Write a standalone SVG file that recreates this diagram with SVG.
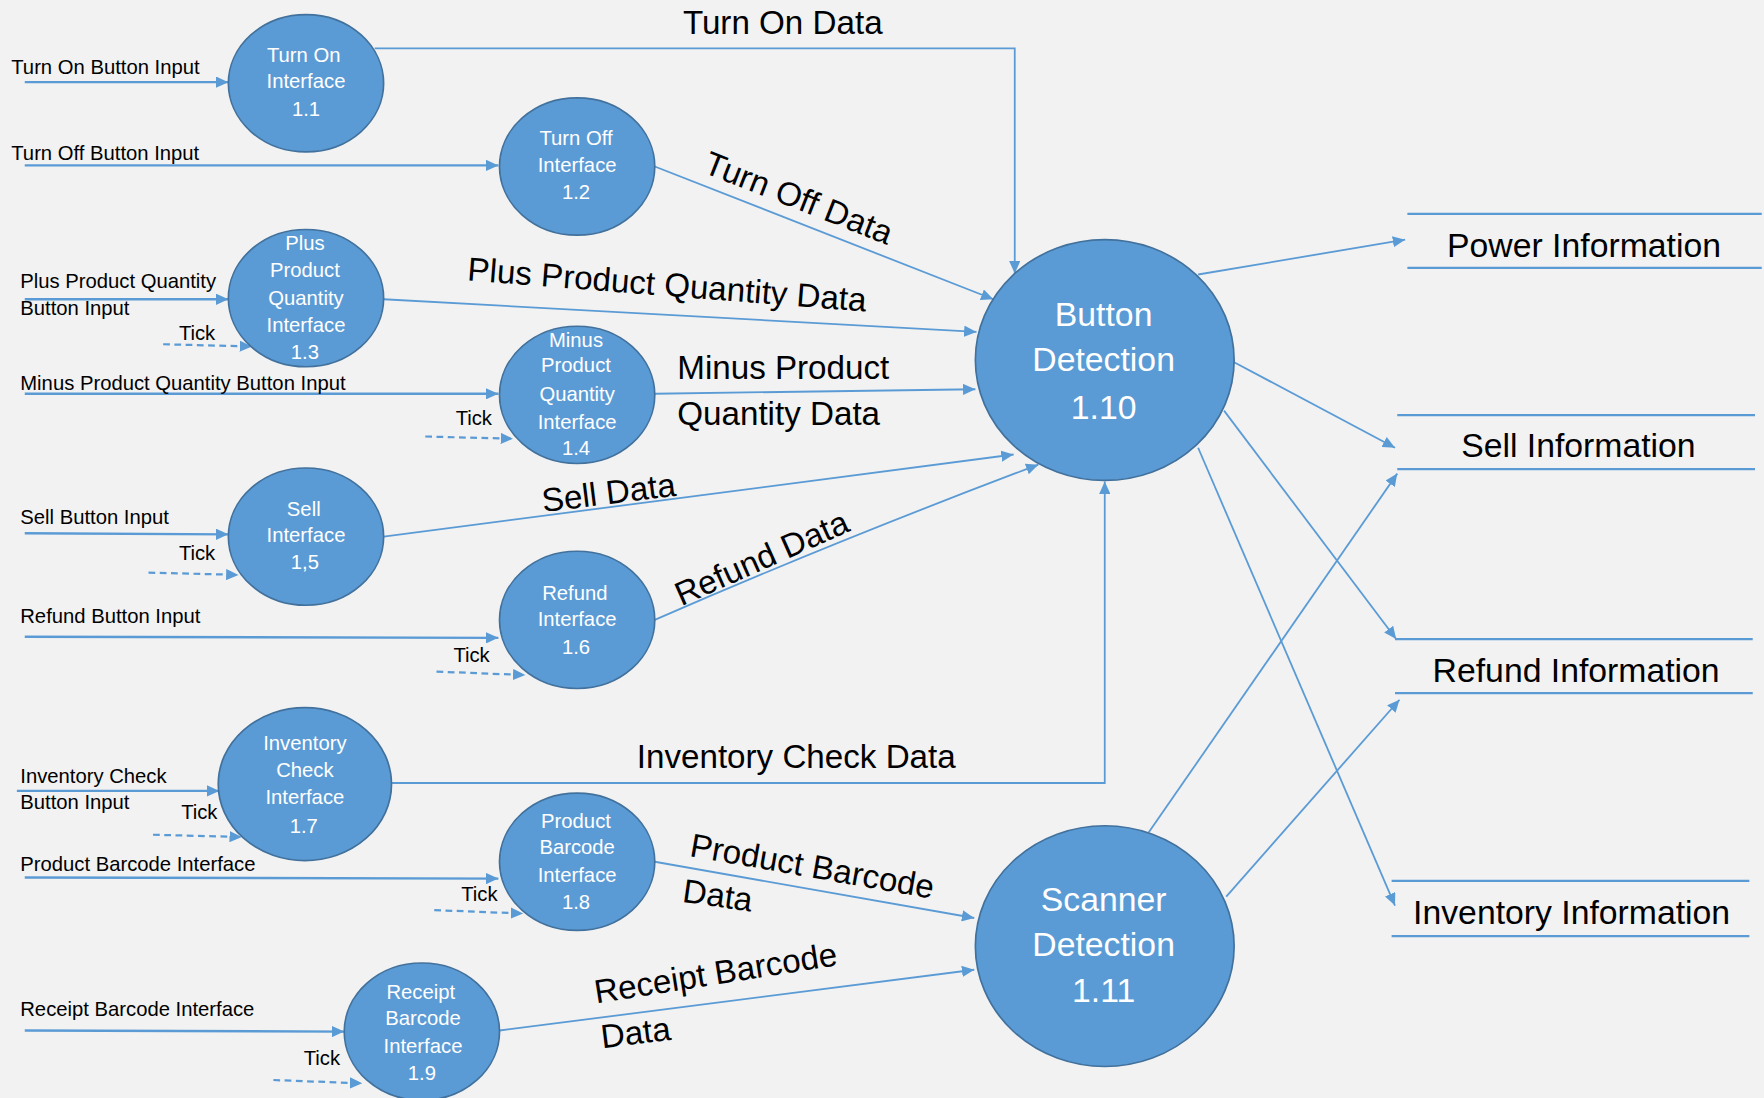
<svg xmlns="http://www.w3.org/2000/svg" width="1764" height="1098" viewBox="0 0 1764 1098">
<defs>
<marker id="arr" markerUnits="userSpaceOnUse" markerWidth="12" markerHeight="10" refX="11" refY="5" orient="auto">
<path d="M0,0 L11,5 L0,10 z" fill="#5b9bd5"/>
</marker>
<style>
.bub{fill:#5b9bd5;stroke:#41719c;stroke-width:1.5}
.bt{fill:#ffffff;font-family:"Liberation Sans",Arial,sans-serif;font-size:18px;text-anchor:middle}
.bt2{fill:#ffffff;font-family:"Liberation Sans",Arial,sans-serif;font-size:30px;text-anchor:middle}
.in{fill:#000000;font-family:"Liberation Sans",Arial,sans-serif;font-size:18px}
.lbl{fill:#000000;font-family:"Liberation Sans",Arial,sans-serif;font-size:29.5px}
.out{fill:#000000;font-family:"Liberation Sans",Arial,sans-serif;font-size:30px;text-anchor:middle}
.ln{fill:none;stroke:#5b9bd5;stroke-width:1.6}
.inl{fill:none;stroke:#5b9bd5;stroke-width:2.2}
.dash{fill:none;stroke:#5b9bd5;stroke-width:2;stroke-dasharray:6,4}
.store{fill:none;stroke:#5b9bd5;stroke-width:2}
</style>
</defs>
<rect width="1764" height="1098" fill="#f2f2f2"/>
<g transform="scale(1.125)">

<g id="connectors">
<line class="inl" x1="22" y1="73" x2="203" y2="73" marker-end="url(#arr)"/>
<line class="inl" x1="22" y1="147" x2="443" y2="147" marker-end="url(#arr)"/>
<line class="inl" x1="22" y1="266" x2="203" y2="266" marker-end="url(#arr)"/>
<line class="dash" x1="145" y1="306" x2="224" y2="308" marker-end="url(#arr)"/>
<line class="inl" x1="22" y1="350" x2="443" y2="350" marker-end="url(#arr)"/>
<line class="dash" x1="378" y1="388" x2="456" y2="390" marker-end="url(#arr)"/>
<line class="inl" x1="22" y1="474" x2="203" y2="475" marker-end="url(#arr)"/>
<line class="dash" x1="132" y1="509" x2="212" y2="511" marker-end="url(#arr)"/>
<line class="inl" x1="22" y1="566" x2="443" y2="567" marker-end="url(#arr)"/>
<line class="dash" x1="388" y1="597" x2="467" y2="600" marker-end="url(#arr)"/>
<line class="inl" x1="15" y1="703" x2="195" y2="703" marker-end="url(#arr)"/>
<line class="dash" x1="136" y1="742" x2="215" y2="744" marker-end="url(#arr)"/>
<line class="inl" x1="22" y1="780" x2="443" y2="781" marker-end="url(#arr)"/>
<line class="dash" x1="386" y1="809" x2="465" y2="812" marker-end="url(#arr)"/>
<line class="inl" x1="22" y1="916" x2="306" y2="917" marker-end="url(#arr)"/>
<line class="dash" x1="243" y1="960" x2="322" y2="963" marker-end="url(#arr)"/>
<polyline class="ln" points="333,43 902,43 902,243" marker-end="url(#arr)"/>
<line class="ln" x1="582" y1="148" x2="883" y2="266" marker-end="url(#arr)"/>
<line class="ln" x1="341" y1="266" x2="868" y2="295" marker-end="url(#arr)"/>
<line class="ln" x1="582" y1="350" x2="867" y2="346" marker-end="url(#arr)"/>
<line class="ln" x1="341" y1="477" x2="901" y2="404" marker-end="url(#arr)"/>
<path class="ln" d="M582,551 Q740,482 923,413" marker-end="url(#arr)"/>
<polyline class="ln" points="348,696 982,696 982,428" marker-end="url(#arr)"/>
<line class="ln" x1="582" y1="766" x2="866" y2="816" marker-end="url(#arr)"/>
<line class="ln" x1="444" y1="916" x2="866" y2="862" marker-end="url(#arr)"/>
<line class="ln" x1="1065" y1="244" x2="1249" y2="213" marker-end="url(#arr)"/>
<line class="ln" x1="1097" y1="322" x2="1240" y2="398" marker-end="url(#arr)"/>
<line class="ln" x1="1088" y1="365" x2="1241" y2="568" marker-end="url(#arr)"/>
<line class="ln" x1="1065" y1="398" x2="1240" y2="805" marker-end="url(#arr)"/>
<line class="ln" x1="1021" y1="740" x2="1242" y2="421" marker-end="url(#arr)"/>
<line class="ln" x1="1090" y1="797" x2="1244" y2="622" marker-end="url(#arr)"/>
</g>

<g id="input-labels">
<text class="in" x="10" y="66">Turn On Button Input</text>
<text class="in" x="10" y="142">Turn Off Button Input</text>
<text class="in" x="18" y="256">Plus Product Quantity</text>
<text class="in" x="18" y="280">Button Input</text>
<text class="in" x="159" y="302">Tick</text>
<text class="in" x="18" y="347">Minus Product Quantity Button Input</text>
<text class="in" x="405" y="378">Tick</text>
<text class="in" x="18" y="466">Sell Button Input</text>
<text class="in" x="159" y="498">Tick</text>
<text class="in" x="18" y="554">Refund Button Input</text>
<text class="in" x="403" y="588">Tick</text>
<text class="in" x="18" y="696">Inventory Check</text>
<text class="in" x="18" y="719">Button Input</text>
<text class="in" x="161" y="728">Tick</text>
<text class="in" x="18" y="774">Product Barcode Interface</text>
<text class="in" x="410" y="801">Tick</text>
<text class="in" x="18" y="903">Receipt Barcode Interface</text>
<text class="in" x="270" y="947">Tick</text>
</g>

<g id="flow-labels">
<text class="lbl" x="607" y="30">Turn On Data</text>
<text class="lbl" text-anchor="middle" transform="translate(710,176) rotate(21.5)" y="10">Turn Off Data</text>
<text class="lbl" text-anchor="middle" transform="translate(593,253) rotate(4.5)" y="10">Plus Product Quantity Data</text>
<text class="lbl" x="602" y="337">Minus  Product</text>
<text class="lbl" x="602" y="378">Quantity Data</text>
<text class="lbl" text-anchor="middle" transform="translate(541,438) rotate(-7)" y="10">Sell Data</text>
<text class="lbl" text-anchor="middle" transform="translate(677,496) rotate(-24)" y="10">Refund Data</text>
<text class="lbl" x="566" y="683">Inventory Check Data</text>
<text class="lbl" text-anchor="middle" transform="translate(722,770) rotate(10)" y="10">Product Barcode</text>
<text class="lbl" text-anchor="middle" transform="translate(638,796) rotate(8)" y="10">Data</text>
<text class="lbl" text-anchor="middle" transform="translate(636,865) rotate(-9)" y="10">Receipt Barcode</text>
<text class="lbl" text-anchor="middle" transform="translate(565,918) rotate(-7)" y="10">Data</text>
</g>

<g id="node-1-1">
<ellipse class="bub" cx="272" cy="74" rx="69" ry="61"/>
<text class="bt" x="270" y="55">Turn On</text>
<text class="bt" x="272" y="78">Interface</text>
<text class="bt" x="272" y="103">1.1</text>
</g>
<g id="node-1-2">
<ellipse class="bub" cx="513" cy="148" rx="69" ry="61"/>
<text class="bt" x="512" y="129">Turn Off</text>
<text class="bt" x="513" y="153">Interface</text>
<text class="bt" x="512" y="177">1.2</text>
</g>
<g id="node-1-3">
<ellipse class="bub" cx="272" cy="265" rx="69" ry="61"/>
<text class="bt" x="271" y="222">Plus</text>
<text class="bt" x="271" y="246">Product</text>
<text class="bt" x="272" y="271">Quantity</text>
<text class="bt" x="272" y="295">Interface</text>
<text class="bt" x="271" y="319">1.3</text>
</g>
<g id="node-1-4">
<ellipse class="bub" cx="513" cy="351" rx="69" ry="61"/>
<text class="bt" x="512" y="308">Minus</text>
<text class="bt" x="512" y="331">Product</text>
<text class="bt" x="513" y="356">Quantity</text>
<text class="bt" x="513" y="381">Interface</text>
<text class="bt" x="512" y="404">1.4</text>
</g>
<g id="node-1-5">
<ellipse class="bub" cx="272" cy="477" rx="69" ry="61"/>
<text class="bt" x="270" y="459">Sell</text>
<text class="bt" x="272" y="482">Interface</text>
<text class="bt" x="271" y="506">1,5</text>
</g>
<g id="node-1-6">
<ellipse class="bub" cx="513" cy="551" rx="69" ry="61"/>
<text class="bt" x="511" y="533">Refund</text>
<text class="bt" x="513" y="556">Interface</text>
<text class="bt" x="512" y="581">1.6</text>
</g>
<g id="node-1-7">
<ellipse class="bub" cx="271" cy="697" rx="77" ry="68"/>
<text class="bt" x="271" y="667">Inventory</text>
<text class="bt" x="271" y="691">Check</text>
<text class="bt" x="271" y="715">Interface</text>
<text class="bt" x="270" y="740">1.7</text>
</g>
<g id="node-1-8">
<ellipse class="bub" cx="513" cy="766" rx="69" ry="61"/>
<text class="bt" x="512" y="736">Product</text>
<text class="bt" x="513" y="759">Barcode</text>
<text class="bt" x="513" y="784">Interface</text>
<text class="bt" x="512" y="808">1.8</text>
</g>
<g id="node-1-9">
<ellipse class="bub" cx="375" cy="917" rx="69" ry="61"/>
<text class="bt" x="374" y="888">Receipt</text>
<text class="bt" x="376" y="911">Barcode</text>
<text class="bt" x="376" y="936">Interface</text>
<text class="bt" x="375" y="960">1.9</text>
</g>
<g id="node-1-10">
<ellipse class="bub" cx="982" cy="320" rx="115" ry="107"/>
<text class="bt2" x="981" y="290">Button</text>
<text class="bt2" x="981" y="330">Detection</text>
<text class="bt2" x="981" y="372">1.10</text>
</g>
<g id="node-1-11">
<ellipse class="bub" cx="982" cy="841" rx="115" ry="107"/>
<text class="bt2" x="981" y="810">Scanner</text>
<text class="bt2" x="981" y="850">Detection</text>
<text class="bt2" x="981" y="891">1.11</text>
</g>

<g id="store-power">
<line class="store" x1="1251" y1="190" x2="1566" y2="190"/>
<line class="store" x1="1251" y1="238" x2="1566" y2="238"/>
<text class="out" x="1408" y="228">Power Information</text>
</g>
<g id="store-sell">
<line class="store" x1="1242" y1="369" x2="1560" y2="369"/>
<line class="store" x1="1242" y1="417" x2="1560" y2="417"/>
<text class="out" x="1403" y="406">Sell Information</text>
</g>
<g id="store-refund">
<line class="store" x1="1240" y1="568" x2="1558" y2="568"/>
<line class="store" x1="1240" y1="616" x2="1558" y2="616"/>
<text class="out" x="1401" y="606">Refund Information</text>
</g>
<g id="store-inventory">
<line class="store" x1="1237" y1="783" x2="1555" y2="783"/>
<line class="store" x1="1237" y1="832" x2="1555" y2="832"/>
<text class="out" x="1397" y="821">Inventory Information</text>
</g>

</g>
</svg>
